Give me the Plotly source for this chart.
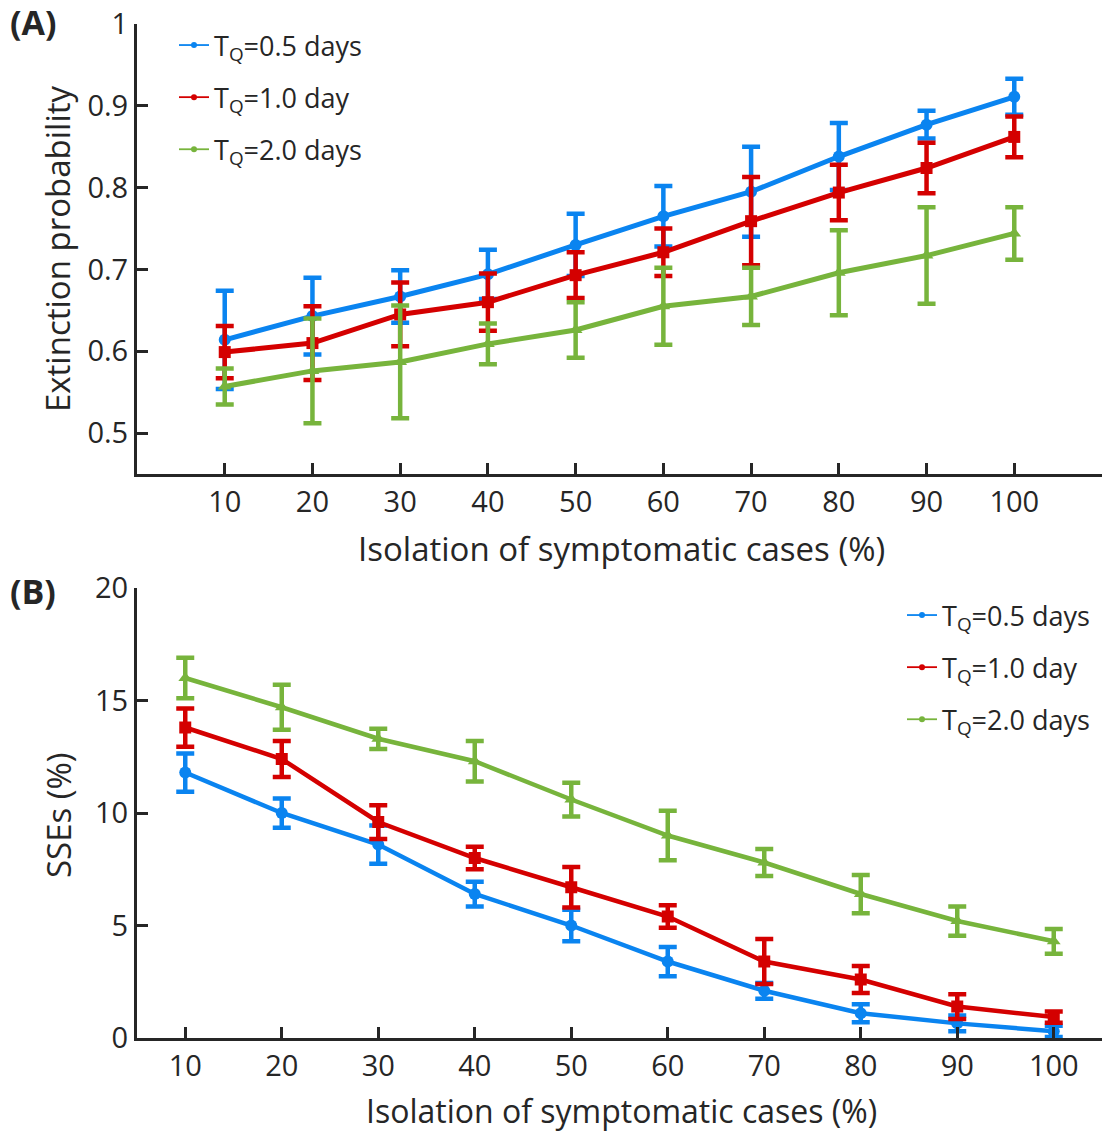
import plotly.graph_objects as go

# Isolation of symptomatic cases (%)
isolation = [10, 20, 30, 40, 50, 60, 70, 80, 90, 100]

# Panel A: extinction probability (mean and error half-width)
ext_05 = [0.614, 0.643, 0.667, 0.694, 0.730, 0.765, 0.795, 0.838, 0.877, 0.911]
ext_05_err = [0.060, 0.047, 0.032, 0.030, 0.038, 0.037, 0.055, 0.041, 0.017, 0.022]
ext_10 = [0.599, 0.610, 0.645, 0.660, 0.693, 0.721, 0.759, 0.794, 0.824, 0.862]
ext_10_err = [0.032, 0.045, 0.039, 0.035, 0.028, 0.029, 0.054, 0.034, 0.031, 0.025]
ext_20 = [0.557, 0.576, 0.587, 0.609, 0.626, 0.655, 0.667, 0.696, 0.717, 0.744]
ext_20_err = [0.022, 0.064, 0.069, 0.025, 0.034, 0.047, 0.035, 0.052, 0.059, 0.032]

# Panel B: SSEs (%) (mean and error half-width)
sse_05 = [11.8, 10.0, 8.6, 6.4, 5.0, 3.4, 2.1, 1.1, 0.65, 0.3]
sse_05_err = [0.85, 0.65, 0.85, 0.55, 0.7, 0.65, 0.35, 0.4, 0.35, 0.25]
sse_10 = [13.8, 12.4, 9.6, 8.0, 6.7, 5.4, 3.4, 2.6, 1.4, 0.93]
sse_10_err = [0.85, 0.8, 0.75, 0.5, 0.9, 0.5, 1.0, 0.6, 0.55, 0.25]
sse_20 = [16.0, 14.7, 13.3, 12.3, 10.6, 9.0, 7.8, 6.4, 5.2, 4.3]
sse_20_err = [0.9, 1.0, 0.45, 0.9, 0.75, 1.1, 0.6, 0.85, 0.65, 0.55]

series_names = ["T<sub>Q</sub>=0.5 days", "T<sub>Q</sub>=1.0 day", "T<sub>Q</sub>=2.0 days"]
colors = ["#0a84f0", "#d40000", "#77b43c"]
symbols = ["circle", "square", "triangle-up"]

W, H = 1102, 1134
FONT = "Open Sans"
TXT = "#262626"

fig = go.Figure()

panels = [
    ([ext_05, ext_10, ext_20], [ext_05_err, ext_10_err, ext_20_err], "x", "y", "legend", 5),
    ([sse_05, sse_10, sse_20], [sse_05_err, sse_10_err, sse_20_err], "x2", "y2", "legend2", 4.5),
]
for pi, (vals, errs, xa, ya, lg, lw) in enumerate(panels):
    for si, (name, v, e, c, s) in enumerate(zip(series_names, vals, errs, colors, symbols)):
        fig.add_trace(go.Scatter(
            x=isolation, y=v, name=name, mode="lines+markers",
            xaxis=xa, yaxis=ya, showlegend=False,
            line=dict(color=c, width=lw),
            marker=dict(color=c, symbol=s, size=12),
            error_y=dict(type="data", array=e, visible=True, color=c,
                         thickness=4.5, width=9),
        ))
        # thin legend-only entry for the series
        fig.add_trace(go.Scatter(
            x=[None], y=[None], name=name, mode="lines+markers",
            xaxis=xa, yaxis=ya, legend=lg, legendgroup=f"{pi}-{si}",
            line=dict(color=c, width=1.8),
            marker=dict(color=c, symbol="circle", size=6),
            hoverinfo="skip",
        ))

def px_x(p):
    return p / W

def px_y(p):
    return 1 - p / H

axis_common = dict(
    showline=True, linecolor="#262626", linewidth=3,
    ticks="inside", ticklen=11, tickwidth=2.5, tickcolor="#262626",
    showgrid=False, zeroline=False, automargin=False,
    tickfont=dict(family=FONT, size=29, color=TXT),
)

legend_common = dict(
    xanchor="left", yanchor="top", bgcolor="rgba(0,0,0,0)",
    font=dict(family=FONT, size=27, color=TXT),
    itemwidth=30, tracegroupgap=14, traceorder="grouped",
)

fig.update_layout(
    width=W, height=H,
    margin=dict(l=0, r=0, t=0, b=0, pad=0, autoexpand=False),
    paper_bgcolor="white", plot_bgcolor="white",
    font=dict(family=FONT, color=TXT),
    xaxis=dict(domain=[px_x(137), 1.0], range=[0, 110],
               tickvals=isolation, anchor="y", **axis_common),
    yaxis=dict(domain=[px_y(474), px_y(24)], range=[0.45, 1.0],
               tickvals=[0.5, 0.6, 0.7, 0.8, 0.9, 1.0],
               ticktext=["0.5", "0.6", "0.7", "0.8", "0.9", "1"],
               anchor="x", **axis_common),
    xaxis2=dict(domain=[px_x(137), 1.0], range=[5, 105],
                tickvals=isolation, anchor="y2", **axis_common),
    yaxis2=dict(domain=[px_y(1038), px_y(588)], range=[0, 20],
                tickvals=[0, 5, 10, 15, 20], anchor="x2", **axis_common),
    legend=dict(x=px_x(174), y=px_y(21), **legend_common),
    legend2=dict(x=px_x(902), y=px_y(591), **legend_common),
    showlegend=True,
)

annots = [
    dict(text="<b>(A)</b>", x=px_x(8), y=px_y(22), xanchor="left", yanchor="middle", size=34),
    dict(text="<b>(B)</b>", x=px_x(8), y=px_y(591), xanchor="left", yanchor="middle", size=34),
    dict(text="Extinction probability", x=px_x(58), y=px_y(249), xanchor="center",
         yanchor="middle", size=33, angle=-90),
    dict(text="SSEs (%)", x=px_x(58), y=px_y(815), xanchor="center",
         yanchor="middle", size=33, angle=-90),
    dict(text="Isolation of symptomatic cases (%)", x=px_x(622), y=px_y(548),
         xanchor="center", yanchor="middle", size=33),
    dict(text="Isolation of symptomatic cases (%)", x=px_x(622), y=px_y(1110),
         xanchor="center", yanchor="middle", size=32),
]
for a in annots:
    fig.add_annotation(text=a["text"], x=a["x"], y=a["y"], xref="paper", yref="paper",
                       xanchor=a["xanchor"], yanchor=a["yanchor"], showarrow=False,
                       textangle=a.get("angle", 0),
                       font=dict(family=FONT, size=a["size"], color=TXT))

fig.write_html("out.html")
